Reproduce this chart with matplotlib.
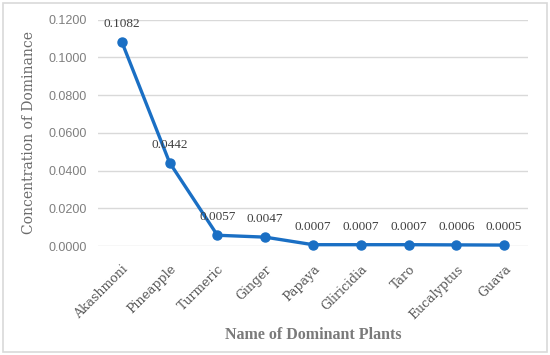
import matplotlib
matplotlib.use("Agg")
import matplotlib.pyplot as plt
from matplotlib.patches import Rectangle

plants = ["Akashmoni", "Pineapple", "Turmeric", "Ginger", "Papaya",
          "Gliricidia", "Taro", "Eucalyptus", "Guava"]
values = [0.1082, 0.0442, 0.0057, 0.0047, 0.0007, 0.0007, 0.0007, 0.0006, 0.0005]
yticks = [0.0, 0.02, 0.04, 0.06, 0.08, 0.10, 0.12]

serif = ["DejaVu Serif"]
lserif = ["Liberation Serif", "DejaVu Serif"]
blue = "#1a6fc4"

fig = plt.figure(figsize=(5.5, 3.55), dpi=100)
fig.patches.append(Rectangle((0.006, 0.008), 0.988, 0.984, transform=fig.transFigure,
                             fill=False, edgecolor="#d9d9d9", linewidth=1.2))
ax = fig.add_axes([0.178, 0.307, 0.782, 0.638])

x = list(range(len(plants)))
ax.plot(x, values, color=blue, linewidth=2.4, marker="o", markersize=6.5, zorder=3,
        clip_on=False)
for xi, v in zip(x, values):
    ax.annotate(f"{v:.4f}", (xi, v), xytext=(0, 13), textcoords="offset points",
                ha="center", va="center", fontsize=9.5, family=lserif, color="#404040")

ax.set_xlim(-0.5, len(plants) - 0.5)
ax.set_ylim(0, 0.12)
ax.set_yticks(yticks)
ax.set_yticklabels([f"{t:.4f}" for t in yticks], family=["Liberation Sans"], fontsize=9,
                   color="#7f7f7f")
ax.grid(axis="y", color="#d9d9d9", linewidth=1)
ax.set_axisbelow(True)
for s in ax.spines.values():
    s.set_visible(False)
ax.tick_params(axis="both", length=0)
ax.tick_params(axis="y", pad=8)
ax.set_xticks(x)
ax.set_xticklabels(plants, rotation=45, ha="right", rotation_mode="anchor",
                   family=serif, fontsize=9, color="#595959")
ax.tick_params(axis="x", pad=12)

ax.set_xlabel("Name of Dominant Plants", family=lserif, fontsize=11.5, fontweight="bold",
              color="#7a7a7a", labelpad=4)
ax.set_ylabel("Concentration of Dominance", family=serif, fontsize=10,
              color="#6a6a6a", labelpad=9)

fig.savefig("out.png", dpi=100)
